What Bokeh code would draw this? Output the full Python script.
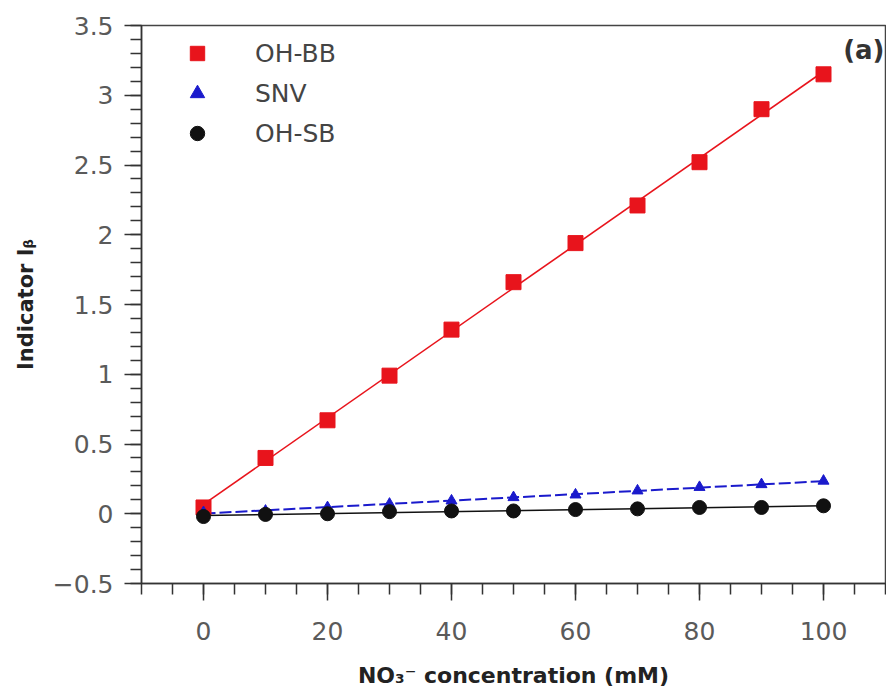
import numpy as np
from bokeh.plotting import figure
from bokeh.models import FixedTicker, Legend, LegendItem, Label, Range1d
from bokeh.embed import file_html
from bokeh.resources import INLINE

# ---- data ----
conc = [0, 10, 20, 30, 40, 50, 60, 70, 80, 90, 100]
oh_bb = [0.045, 0.40, 0.67, 0.99, 1.32, 1.66, 1.94, 2.21, 2.52, 2.90, 3.15]
snv = [0.01, 0.02, 0.045, 0.07, 0.093, 0.117, 0.136, 0.165, 0.19, 0.21, 0.235]
oh_sb = [-0.02, -0.005, 0.0, 0.015, 0.02, 0.02, 0.03, 0.035, 0.045, 0.045, 0.057]

series_names = ["OH-BB", "SNV", "OH-SB"]

y_ticks = [-0.5, 0.0, 0.5, 1.0, 1.5, 2.0, 2.5, 3.0, 3.5]
y_tick_labels = ["\u22120.5", "0", "0.5", "1", "1.5", "2", "2.5", "3", "3.5"]
x_ticks = [0, 20, 40, 60, 80, 100]
x_tick_labels = ["0", "20", "40", "60", "80", "100"]

FONT = "DejaVu Sans"

p = figure(width=886, height=692, output_backend="svg", toolbar_location=None,
           x_range=Range1d(-10, 110), y_range=Range1d(-0.5, 3.5),
           min_border_left=141, min_border_right=1, min_border_top=25,
           min_border_bottom=109)
p.xgrid.visible = False
p.ygrid.visible = False
p.outline_line_color = "#444444"
p.outline_line_width = 1.5
p.background_fill_color = "white"
p.border_fill_color = "white"

# fitted lines
def fit_line(xs, ys):
    k, b = np.polyfit(xs, ys, 1)
    fx = [xs[0], xs[-1]]
    return fx, [k * v + b for v in fx]

fx, fy = fit_line(conc, oh_bb)
p.line(fx, fy, line_color="#e8141c", line_width=1.6)
fx, fy = fit_line(conc, snv)
p.line(fx, fy, line_color="#1a1acc", line_width=2, line_dash="12 4")
fx, fy = fit_line(conc, oh_sb)
p.line(fx, fy, line_color="#111111", line_width=1.6)

r_bb = p.scatter(conc, oh_bb, marker="square", size=15, fill_color="#e8141c", line_color="#e8141c")
r_snv = p.scatter(conc, snv, marker="triangle", size=11, fill_color="#1a1acc", line_color="#1a1acc")
r_sb = p.scatter(conc, oh_sb, marker="circle", size=14, fill_color="#111111", line_color="#111111")

legend = Legend(items=[LegendItem(label=series_names[0], renderers=[r_bb]),
                       LegendItem(label=series_names[1], renderers=[r_snv]),
                       LegendItem(label=series_names[2], renderers=[r_sb])],
                location=(38, 430), padding=0, spacing=0, margin=0,
                glyph_width=36, glyph_height=40, label_height=40,
                label_standoff=40,
                label_text_font=FONT, label_text_font_size="25px",
                label_text_color="#444444",
                border_line_color=None, background_fill_alpha=0)
p.add_layout(legend, "center")

p.add_layout(Label(x=110, y=3.5, text="(a)", text_align="right", text_baseline="top",
                   x_offset=-1, y_offset=-9, text_font=FONT, text_font_size="26px",
                   text_font_style="bold", text_color="#333333"))

# axes
for ax in (p.xaxis[0], p.yaxis[0]):
    ax.axis_line_color = "#333333"
    ax.axis_line_width = 1.5
    ax.major_tick_line_color = "#333333"
    ax.major_tick_line_width = 1.5
    ax.minor_tick_line_color = "#333333"
    ax.minor_tick_line_width = 1.5
    ax.major_tick_in = 0
    ax.major_tick_out = 17
    ax.minor_tick_in = 0
    ax.minor_tick_out = 11
    ax.major_label_text_font = FONT
    ax.major_label_text_font_size = "25px"
    ax.major_label_text_color = "#5a5a5a"
    ax.axis_label_text_font = FONT
    ax.axis_label_text_font_style = "bold"
    ax.axis_label_text_color = "#222222"

p.xaxis.ticker = FixedTicker(ticks=x_ticks,
                             minor_ticks=[round(v, 1) for v in np.arange(-10, 111, 5)])
p.yaxis.ticker = FixedTicker(ticks=y_ticks,
                             minor_ticks=[round(v, 2) for v in np.arange(-0.5, 3.51, 0.1)])
p.xaxis.major_label_overrides = dict(zip(x_ticks, x_tick_labels))
p.yaxis.major_label_overrides = dict(zip(y_ticks, y_tick_labels))

p.xaxis.axis_label = "NO\u2083\u207b concentration (mM)"
p.xaxis.axis_label_text_font_size = "22px"
p.xaxis.major_label_standoff = 21
p.xaxis.axis_label_standoff = 20

p.yaxis.axis_label = "Indicator I\u1d66"
p.yaxis.axis_label_text_font_size = "21px"
p.yaxis.major_label_standoff = 11
p.yaxis.axis_label_standoff = 12

open("out.html", "w").write(file_html(p, INLINE))
